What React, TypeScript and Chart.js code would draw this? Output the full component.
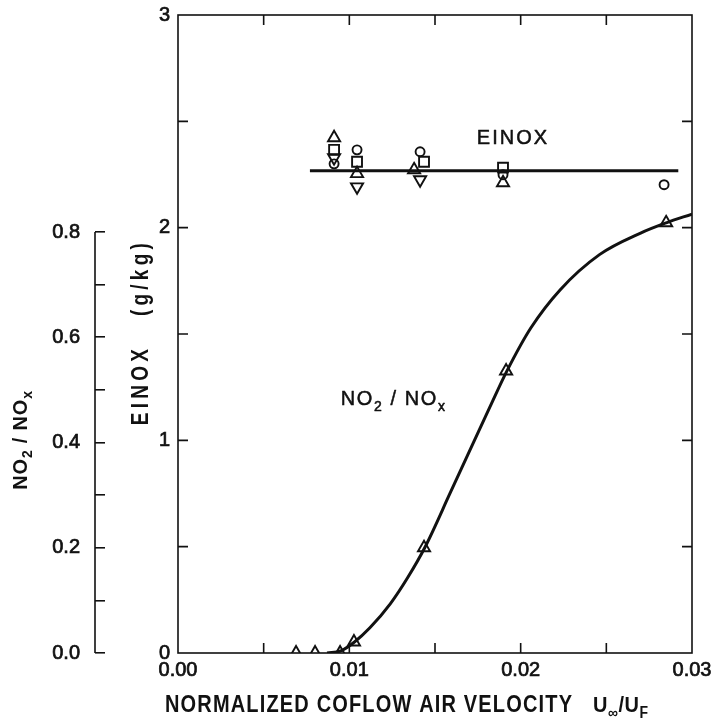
import React, { useEffect, useRef } from 'react';
import { Chart, registerables } from 'chart.js';

Chart.register(...registerables);

// ---- data ----
const einoxLineX = [0.0077, 0.0292];
const einoxLineY = [2.268, 2.268];

const circleX = [0.00911, 0.01045, 0.01413, 0.01897, 0.02837];
const circleY = [2.3, 2.366, 2.357, 2.249, 2.202];
const squareX = [0.00911, 0.01045, 0.01436, 0.01897];
const squareY = [2.366, 2.31, 2.31, 2.282];
const triUpX = [0.00911, 0.01045, 0.01378, 0.01897];
const triUpY = [2.423, 2.254, 2.272, 2.211];
const triDownX = [0.00911, 0.01045, 0.01413];
const triDownY = [2.329, 2.192, 2.225];

const no2X = [0.00689, 0.008, 0.00946, 0.01027, 0.01436, 0.01915, 0.02849];
const no2Y = [0.0, 0.0, 0.0, 0.021, 0.2, 0.536, 0.8175];

const curveX = [0.0087, 0.0095, 0.0103, 0.0112, 0.0124, 0.0134, 0.0144, 0.0159, 0.0171, 0.0182, 0.0192, 0.0206, 0.0223, 0.0246, 0.027, 0.0285, 0.03];
const curveY = [0, 0.004, 0.021, 0.048, 0.094, 0.143, 0.2, 0.305, 0.39, 0.467, 0.536, 0.618, 0.69, 0.757, 0.798, 0.8175, 0.834];

const no2Ticks = [0, 0.1, 0.2, 0.3, 0.4, 0.5, 0.6, 0.7, 0.8];

const INK = '#111111';
const FONT = '"Liberation Sans", Arial, sans-serif';

const pts = (xs: number[], ys: number[]) => xs.map((x, i) => ({ x, y: ys[i] }));

type Part = [string, boolean];

function setFont(ctx: CanvasRenderingContext2D, size: number, bold: boolean, spacing: number) {
  ctx.font = `${bold ? 'bold ' : ''}${size}px ${FONT}`;
  (ctx as any).letterSpacing = `${spacing}px`;
}

function measureParts(ctx: CanvasRenderingContext2D, parts: Part[], size: number, bold: boolean, spacing: number) {
  let w = 0;
  for (const [text, sub] of parts) {
    setFont(ctx, sub ? Math.round(size * 0.7) : size, bold, spacing);
    w += ctx.measureText(text).width;
  }
  return w;
}

function drawParts(ctx: CanvasRenderingContext2D, parts: Part[], x: number, y: number, size: number, bold: boolean, spacing: number, stretch = 1, stroke = 0) {
  ctx.save();
  ctx.translate(x, y);
  ctx.scale(1, stretch);
  ctx.lineWidth = stroke;
  ctx.lineJoin = 'round';
  let cx = 0;
  for (const [text, sub] of parts) {
    setFont(ctx, sub ? Math.round(size * 0.7) : size, bold, spacing);
    const yy = sub ? size * 0.26 : 0;
    ctx.fillText(text, cx, yy);
    if (stroke > 0) ctx.strokeText(text, cx, yy);
    cx += ctx.measureText(text).width;
  }
  ctx.restore();
  return cx;
}

function fitSpacing(ctx: CanvasRenderingContext2D, text: string, size: number, bold: boolean, target: number) {
  setFont(ctx, size, bold, 0);
  const natural = ctx.measureText(text).width;
  return (target - natural) / (text.length - 1);
}

const decorPlugin = {
  id: 'decor',
  afterDraw(chart: any) {
    const ctx: CanvasRenderingContext2D = chart.ctx;
    const { left, right, top, bottom } = chart.chartArea;
    const xs = chart.scales.x;
    const ys = chart.scales.y;
    const y2 = chart.scales.y2;
    const TICK = 10;
    ctx.save();
    ctx.strokeStyle = INK;
    ctx.fillStyle = INK;
    ctx.lineWidth = 1.6;
    ctx.strokeRect(left, top, right - left, bottom - top);
    ctx.beginPath();
    xs.ticks.forEach((t: any) => {
      const p = xs.getPixelForValue(t.value);
      if (p <= left + 1 || p >= right - 1) return;
      ctx.moveTo(p, bottom); ctx.lineTo(p, bottom - TICK);
      ctx.moveTo(p, top); ctx.lineTo(p, top + TICK);
    });
    ys.ticks.forEach((t: any) => {
      const p = ys.getPixelForValue(t.value);
      if (p <= top + 1 || p >= bottom - 1) return;
      ctx.moveTo(left, p); ctx.lineTo(left + TICK, p);
      ctx.moveTo(right, p); ctx.lineTo(right - TICK, p);
    });
    // NO2/NOx axis line (spans 0 .. 0.8 only)
    const ax = y2.right - 10;
    ctx.moveTo(ax, y2.getPixelForValue(0));
    ctx.lineTo(ax, y2.getPixelForValue(0.8));
    ctx.stroke();

    ctx.textBaseline = 'alphabetic';
    ctx.textAlign = 'left';

    // x-axis title
    const main = 'NORMALIZED COFLOW AIR VELOCITY';
    const sp = fitSpacing(ctx, main, 20, true, 407);
    const tx = left - 13;
    const ty = bottom + 59;
    drawParts(ctx, [[main, false]], tx, ty, 20, true, sp, 1.17);
    drawParts(ctx, [['U', false], ['\u221E', true], ['/', false], ['U', false], ['F', true]], tx + 428, ty, 20, true, 0.5, 1.12);

    // NO2/NOx axis title (rotated)
    const noParts: Part[] = [['NO', false], ['2', true], [' / NO', false], ['x', true]];
    ctx.save();
    ctx.translate(y2.left + 27, ys.getPixelForValue(0) - 213);
    ctx.rotate(-Math.PI / 2);
    const nw = measureParts(ctx, noParts, 20, true, 0.8);
    drawParts(ctx, noParts, -nw / 2, 0, 20, true, 0.8, 1.05);
    ctx.restore();

    // EINOX axis title (rotated)
    const eText = 'EINOX   (g/kg)';
    const esp = fitSpacing(ctx, eText, 19, true, 182);
    ctx.save();
    ctx.translate(ys.left + 43, ys.getPixelForValue(1.5) - 2);
    ctx.rotate(-Math.PI / 2);
    const ew = measureParts(ctx, [[eText, false]], 19, true, esp);
    drawParts(ctx, [[eText, false]], -ew / 2, 0, 19, true, esp, 1.3);
    ctx.restore();

    // in-plot annotations
    const aParts: Part[] = [['EINOX', false]];
    const aw = measureParts(ctx, aParts, 20, false, 2);
    drawParts(ctx, aParts, xs.getPixelForValue(0.01955) - aw / 2, ys.getPixelForValue(2.394), 20, false, 2, 1.05, 0.5);
    const bParts: Part[] = [['NO', false], ['2', true], [' / NO', false], ['x', true]];
    drawParts(ctx, bParts, xs.getPixelForValue(0.0095), ys.getPixelForValue(1.164), 20, false, 1.6, 1.05, 0.5);
    ctx.restore();
  },
};

export default function App() {
  const ref = useRef<HTMLCanvasElement | null>(null);
  useEffect(() => {
    if (!ref.current) return;
    const marker = (style: string, r: number, rot = 0) => ({
      showLine: false,
      pointStyle: style as any,
      pointRadius: r,
      pointHoverRadius: r,
      pointRotation: rot,
      pointBorderColor: INK,
      pointBackgroundColor: 'rgba(0,0,0,0)',
      pointBorderWidth: 1.9,
      borderColor: INK,
      backgroundColor: 'rgba(0,0,0,0)',
    });
    const tickFont = { family: FONT, size: 20 };
    const tickStroke = { textStrokeColor: INK, textStrokeWidth: 0.7 };
    const chart = new Chart(ref.current, {
      type: 'scatter',
      data: {
        datasets: [
          { label: 'EINOX fit', data: pts(einoxLineX, einoxLineY), showLine: true, borderColor: INK, borderWidth: 3, pointRadius: 0, yAxisID: 'y' } as any,
          { label: 'circle', data: pts(circleX, circleY), yAxisID: 'y', ...marker('circle', 4.5) },
          { label: 'square', data: pts(squareX, squareY), yAxisID: 'y', ...marker('rect', 7) },
          { label: 'tri up', data: pts(triUpX, triUpY), yAxisID: 'y', ...marker('triangle', 7) },
          { label: 'tri down', data: pts(triDownX, triDownY), yAxisID: 'y', ...marker('triangle', 7, 180) },
          { label: 'NO2/NOx', data: pts(no2X, no2Y), yAxisID: 'y2', ...marker('triangle', 7) },
          { label: 'NO2/NOx fit', data: pts(curveX, curveY), showLine: true, borderColor: INK, borderWidth: 3, pointRadius: 0, cubicInterpolationMode: 'monotone', yAxisID: 'y2' } as any,
        ],
      },
      options: {
        responsive: false,
        animation: false,
        devicePixelRatio: 1,
        layout: { padding: { left: 0, top: 15, right: 21, bottom: 0 } },
        plugins: { legend: { display: false }, tooltip: { enabled: false } },
        scales: {
          x: {
            type: 'linear', position: 'bottom', min: 0, max: 0.03,
            grid: { display: false, drawTicks: false },
            border: { display: false },
            ticks: {
              stepSize: 0.005, autoSkip: false, maxRotation: 0, padding: 5,
              color: INK, font: tickFont, ...tickStroke,
              callback: (v: any) => (Math.round(Number(v) * 1000) % 10 === 0 ? Number(v).toFixed(2) : ''),
            },
            afterFit: (s: any) => { s.height = 71; s.paddingLeft = 0; s.paddingRight = 0; },
          },
          y: {
            type: 'linear', position: 'left', min: 0, max: 3, weight: 0,
            grid: { display: false, drawTicks: false },
            border: { display: false },
            ticks: {
              stepSize: 0.5, autoSkip: false, padding: 8, color: INK, font: tickFont, ...tickStroke,
              callback: (v: any) => (Number.isInteger(Number(v)) ? String(v) : ''),
            },
            afterFit: (s: any) => { s.width = 73; s.paddingTop = 0; s.paddingBottom = 0; },
          },
          y2: {
            type: 'linear', position: 'left', min: 0, max: 638 / 526.25, weight: 1,
            grid: { display: true, drawOnChartArea: false, drawTicks: true, tickLength: 10, color: INK, lineWidth: 1.6 },
            border: { display: false },
            ticks: {
              autoSkip: false, padding: 15, color: INK, font: tickFont, ...tickStroke,
              callback: (v: any) => (Math.round(Number(v) * 10) % 2 === 0 ? Number(v).toFixed(1) : ''),
            },
            afterBuildTicks: (s: any) => { s.ticks = no2Ticks.map((v) => ({ value: v })); },
            afterFit: (s: any) => { s.width = 105; s.paddingTop = 0; s.paddingBottom = 0; },
          },
        },
      } as any,
      plugins: [decorPlugin],
    });
    return () => chart.destroy();
  }, []);
  return (
    <div style={{ position: 'absolute', left: 0, top: 0, width: 713, height: 724, background: '#fff' }}>
      <canvas ref={ref} width={713} height={724} />
    </div>
  );
}
